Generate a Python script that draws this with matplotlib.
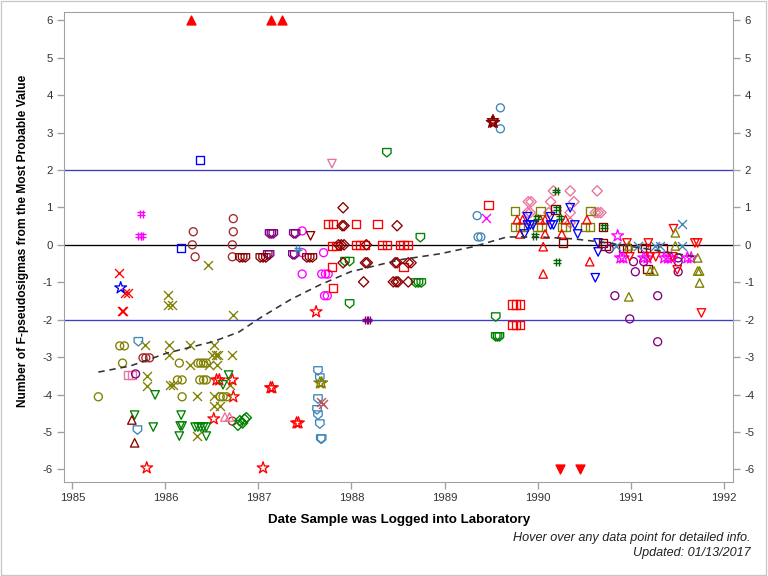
import matplotlib
matplotlib.use("Agg")
import matplotlib.pyplot as plt
from matplotlib.path import Path
from matplotlib.patches import Rectangle

plt.rcParams['font.family'] = ['Liberation Sans', 'DejaVu Sans']
plt.rcParams['axes.unicode_minus'] = False

# ---- data: (year, F-pseudosigmas) ----
red_tri_up_filled_x = [1986.28, 1987.14, 1987.25]
red_tri_up_filled_y = [6.0, 6.0, 6.0]
red_tri_dn_filled_x = [1990.24, 1990.46]
red_tri_dn_filled_y = [-6.0, -6.0]

blue_sq_x = [1986.37, 1986.17]
blue_sq_y = [2.27, -0.08]

teal_circ_x = [1989.60, 1989.60, 1989.35, 1989.36, 1989.39]
teal_circ_y = [3.66, 3.10, 0.78, 0.21, 0.21]

maroon_star_x = [1989.51, 1989.53, 1989.52]
maroon_star_y = [3.27, 3.27, 3.32]

pink_tri_dn_x = [1987.79]
pink_tri_dn_y = [2.17]

green_shield_x = [1988.38, 1988.74, 1987.93, 1987.98, 1987.98, 1988.69, 1988.72, 1988.75,
                  1989.55, 1989.55, 1989.57, 1989.59]
green_shield_y = [2.46, 0.19, -0.45, -0.45, -1.58, -1.02, -1.02, -1.02,
                  -1.93, -2.46, -2.46, -2.46]

magenta_hash_x = [1985.74, 1985.72, 1985.75]
magenta_hash_y = [0.83, 0.24, 0.24]

brown_circ_x = [1986.30, 1986.29, 1986.32, 1986.73, 1986.73, 1986.72, 1986.72,
                1985.76, 1985.79, 1985.83, 1986.72]
brown_circ_y = [0.35, 0.0, -0.32, 0.70, 0.35, 0.0, -0.32,
                -3.02, -3.02, -3.02, -4.71]

olive_x_x = [1986.46, 1986.03, 1986.03, 1986.07, 1986.73, 1985.78, 1986.04, 1986.27, 1986.52,
             1986.04, 1986.50, 1986.54, 1986.57, 1986.72, 1986.27, 1986.47, 1986.56,
             1985.80, 1985.80, 1986.05, 1986.08, 1986.70, 1986.34, 1986.52, 1986.52,
             1986.59, 1986.34]
olive_x_y = [-0.53, -1.34, -1.60, -1.60, -1.87, -2.67, -2.67, -2.67, -2.67,
             -2.94, -2.94, -2.94, -2.94, -2.94, -3.21, -3.21, -3.21,
             -3.50, -3.77, -3.74, -3.74, -3.74, -4.04, -4.04, -4.30,
             -4.30, -5.11]

red_x_x = [1985.50, 1985.57, 1985.60, 1985.53, 1985.55]
red_x_y = [-0.75, -1.28, -1.28, -1.76, -1.76]

blue_star_x = [1985.52]
blue_star_y = [-1.15]

red_star_x = [1987.62, 1986.55, 1986.58, 1986.72, 1986.73, 1986.52, 1987.13, 1987.15,
              1987.41, 1987.43, 1985.80, 1987.05]
red_star_y = [-1.79, -3.61, -3.61, -3.61, -4.06, -4.65, -3.82, -3.82,
              -4.76, -4.76, -5.96, -5.96]

teal_shield_x = [1985.71, 1985.70, 1987.64, 1987.66, 1987.64, 1987.63, 1987.64, 1987.66,
                 1987.67, 1987.68]
teal_shield_y = [-2.59, -4.95, -3.37, -3.56, -4.12, -4.41, -4.55, -4.79,
                 -5.19, -5.19]

olive_circ_x = [1985.51, 1985.56, 1985.54, 1986.15, 1986.35, 1986.38, 1986.41, 1986.44,
                1986.13, 1986.18, 1986.37, 1986.41, 1986.44, 1985.28, 1986.18,
                1986.59, 1986.62, 1986.66]
olive_circ_y = [-2.70, -2.70, -3.16, -3.16, -3.16, -3.16, -3.16, -3.16,
                -3.61, -3.61, -3.61, -3.61, -3.61, -4.06, -4.06,
                -4.06, -4.06, -4.06]

olive_star_x = [1987.66, 1987.68]
olive_star_y = [-3.69, -3.69]

rosy_x_x = [1987.67, 1987.69]
rosy_x_y = [-4.20, -4.26]

pink_sq_x = [1985.60, 1985.64]
pink_sq_y = [-3.48, -3.48]
purple_circ_early_x = [1985.68]
purple_circ_early_y = [-3.45]

green_tri_dn_x = [1986.68, 1986.62, 1985.89, 1985.67, 1985.87, 1986.17, 1986.16, 1986.18,
                  1986.15, 1986.32, 1986.35, 1986.38, 1986.41, 1986.44, 1986.44]
green_tri_dn_y = [-3.48, -3.74, -4.01, -4.55, -4.87, -4.55, -4.84, -4.84,
                  -5.11, -4.87, -4.87, -4.87, -4.87, -4.87, -5.11]

maroon_tri_up_x = [1985.64, 1985.67]
maroon_tri_up_y = [-4.68, -5.29]

pink_tri_up_x = [1986.64, 1986.69]
pink_tri_up_y = [-4.60, -4.60]

green_diam_x = [1986.78, 1986.80, 1986.83, 1986.85, 1986.87]
green_diam_y = [-4.82, -4.70, -4.76, -4.66, -4.62]

magenta_circ_x = [1987.47, 1987.47, 1987.70, 1987.47, 1987.68, 1987.72, 1987.75,
                  1987.71, 1987.74]
magenta_circ_y = [0.37, -0.21, -0.21, -0.78, -0.78, -0.78, -0.78,
                  -1.36, -1.36]

purple_shield_x = [1987.12, 1987.14, 1987.16, 1987.38, 1987.40, 1987.10, 1987.12,
                   1987.37, 1987.39]
purple_shield_y = [0.29, 0.29, 0.29, 0.29, 0.29, -0.27, -0.27, -0.27, -0.27]

maroon_shield_x = [1986.80, 1986.83, 1986.86, 1987.02, 1987.05, 1987.08,
                   1987.52, 1987.55, 1987.58]
maroon_shield_y = [-0.35] * 9

maroon_tri_dn_x = [1987.56]
maroon_tri_dn_y = [0.24]

teal_hash_x = [1987.42]
teal_hash_y = [-0.11]

red_sq_x = [1987.75, 1987.80, 1988.05, 1988.28, 1987.79, 1987.84, 1988.05, 1988.09, 1988.14,
            1988.33, 1988.38, 1988.52, 1988.56, 1988.60, 1987.79, 1988.56, 1987.80,
            1989.47, 1989.73, 1989.77, 1989.81, 1989.73, 1989.77, 1989.81]
red_sq_y = [0.56, 0.56, 0.56, 0.56, -0.03, -0.03, 0.0, 0.0, 0.0,
            0.0, 0.0, 0.0, 0.0, 0.0, -0.59, -0.59, -1.15,
            1.07, -1.60, -1.60, -1.60, -2.14, -2.14, -2.14]

maroon_diam_x = [1987.91, 1987.90, 1987.92, 1988.49, 1987.86, 1987.89, 1987.92, 1988.16,
                 1987.91, 1988.15, 1988.17, 1988.47, 1988.49, 1988.61, 1988.64,
                 1988.13, 1988.45, 1988.48, 1988.50, 1988.61]
maroon_diam_y = [0.99, 0.51, 0.51, 0.51, 0.0, 0.0, 0.0, 0.0,
                 -0.48, -0.48, -0.48, -0.48, -0.48, -0.48, -0.48,
                 -0.99, -0.99, -0.99, -0.99, -0.99]

purple_hash_x = [1988.16, 1988.18]
purple_hash_y = [-2.01, -2.01]

magenta_x_x = [1989.45]
magenta_x_y = [0.72]

pink_diam_x = [1990.17, 1990.35, 1990.64, 1989.90, 1989.93, 1990.14, 1990.39, 1990.62,
               1990.65, 1990.68, 1989.89, 1989.92, 1990.12, 1990.35, 1990.35]
pink_diam_y = [1.44, 1.44, 1.44, 1.15, 1.15, 1.15, 1.15, 0.86,
               0.86, 0.86, 0.86, 0.86, 0.86, 0.86, 0.59]

green_hash_x = [1990.20, 1990.21, 1989.99, 1990.24, 1989.97, 1990.21, 1990.71]
green_hash_y = [1.44, 0.96, 0.72, 0.72, 0.24, -0.45, 0.48]

olive_sq_x = [1989.76, 1990.03, 1990.57, 1989.76, 1989.81, 1989.85, 1990.00, 1990.04,
              1990.26, 1990.30, 1990.51, 1990.56]
olive_sq_y = [0.91, 0.91, 0.91, 0.48, 0.48, 0.48, 0.48, 0.48,
              0.48, 0.48, 0.48, 0.48]

red_tri_up_x = [1989.78, 1989.84, 1990.03, 1990.08, 1990.30, 1990.53, 1989.81, 1990.08,
                1990.26, 1990.06, 1990.56, 1990.06]
red_tri_up_y = [0.67, 0.67, 0.67, 0.67, 0.67, 0.67, 0.29, 0.29,
                0.29, -0.05, -0.45, -0.78]

blue_tri_dn_x = [1990.35, 1989.89, 1990.14, 1989.89, 1989.92, 1989.95, 1990.14, 1990.17,
                 1990.40, 1989.86, 1990.43, 1990.65, 1990.65, 1990.62]
blue_tri_dn_y = [0.99, 0.75, 0.75, 0.53, 0.53, 0.53, 0.53, 0.53,
                 0.53, 0.29, 0.29, 0.05, -0.19, -0.88]

maroon_sq_x = [1990.19, 1990.70, 1990.70, 1990.73, 1990.92, 1990.96, 1991.12, 1991.16,
               1991.34, 1991.18, 1990.27]
maroon_sq_y = [0.94, 0.48, 0.05, -0.03, -0.08, -0.08, -0.08, -0.08,
               -0.08, -0.64, 0.05]

purple_circ_x = [1990.77, 1991.03, 1991.05, 1991.14, 1991.51, 1991.51, 1991.51, 1990.83,
                 1991.29, 1990.99, 1991.29]
purple_circ_y = [-0.11, -0.45, -0.72, -0.45, -0.45, -0.35, -0.72, -1.36,
                 -1.36, -1.98, -2.59]

magenta_star_x = [1990.86, 1990.89, 1990.92, 1991.14, 1991.18, 1991.36, 1991.40, 1991.44,
                  1991.61, 1991.65]
magenta_star_y = [0.24, -0.35, -0.35, -0.35, -0.35, -0.35, -0.35, -0.35,
                  -0.35, -0.35]

teal_x_x = [1990.84, 1991.08, 1991.26, 1991.32, 1991.55, 1991.55]
teal_x_y = [-0.03, -0.03, -0.03, -0.03, -0.03, 0.56]

red_tri_dn_x = [1991.46, 1991.19, 1990.96, 1991.69, 1991.72, 1990.99, 1991.21, 1991.27,
                1991.45, 1991.50, 1991.76]
red_tri_dn_y = [0.43, 0.05, 0.05, 0.05, 0.05, -0.32, -0.32, -0.32,
                -0.32, -0.67, -1.82]

olive_tri_up_x = [1991.48, 1990.98, 1991.48, 1991.72, 1991.72, 1991.74, 1991.74, 1991.21,
                  1991.25, 1990.98]
olive_tri_up_y = [0.32, -0.03, -0.03, -0.35, -0.70, -0.70, -1.02, -0.70,
                  -0.70, -1.39]

# loess-style trend (dashed)
trend_x = [1985.28, 1985.62, 1986.02, 1986.51, 1986.79, 1987.02, 1987.34, 1987.66,
           1987.99, 1988.52, 1988.95, 1989.31, 1989.67, 1990.03, 1990.38, 1990.67,
           1991.10, 1991.50, 1991.70]
trend_y = [-3.40, -3.24, -2.89, -2.59, -2.33, -1.95, -1.47, -1.07,
           -0.72, -0.40, -0.24, -0.05, 0.21, 0.21, 0.16, 0.08,
           -0.08, -0.24, -0.32]

year_ticks = [1985, 1986, 1987, 1988, 1989, 1990, 1991, 1992]
sigma_ticks = [-6, -5, -4, -3, -2, -1, 0, 1, 2, 3, 4, 5, 6]

# ---- colours ----
RED = '#FF0000'
MAROON = '#8B0000'
BROWN = '#A5292A'
OLIVE = '#808000'
GREEN = '#008000'
DKGREEN = '#006400'
TEAL = '#3F86BA'
MAGENTA = '#FF00FF'
PINK = '#E8739B'
PURPLE = '#800080'
BLUE = '#0000FF'
ROSY = '#C05050'

# ---- custom markers ----
hash_mk = Path([(-0.35, -1), (-0.35, 1), (0.35, -1), (0.35, 1),
                (-1, -0.35), (1, -0.35), (-1, 0.35), (1, 0.35)],
               [Path.MOVETO, Path.LINETO] * 4)
shield_mk = Path([(-1, 1), (1, 1), (1, -0.15), (0, -1), (-1, -0.15), (-1, 1)],
                 [Path.MOVETO] + [Path.LINETO] * 4 + [Path.CLOSEPOLY])

fig = plt.figure(figsize=(8, 6), dpi=96)
ax = fig.add_axes([0.0837, 0.163, 0.8708, 0.8155])

ax.axhline(0, color='black', lw=1, zorder=1)
ax.axhline(2, color='#3D3DCC', lw=1, zorder=1)
ax.axhline(-2, color='#3D3DCC', lw=1, zorder=1)


def pts(x, y, color, marker, size=42, filled=False):
    if marker == 'x':
        ax.scatter(x, y, s=size, marker='x', linewidths=1, c=color, zorder=3)
        return
    ax.scatter(x, y, s=size, marker=marker, linewidths=1,
               facecolors=color if filled else 'none', edgecolors=color, zorder=3)


pts(red_tri_up_filled_x, red_tri_up_filled_y, RED, '^', 45, True)
pts(red_tri_dn_filled_x, red_tri_dn_filled_y, RED, 'v', 45, True)
pts(blue_sq_x, blue_sq_y, BLUE, 's', 40)
pts(teal_circ_x, teal_circ_y, TEAL, 'o', 36)
pts(maroon_star_x, maroon_star_y, MAROON, '*', 80)
pts(pink_tri_dn_x, pink_tri_dn_y, PINK, 'v', 40)
pts(green_shield_x, green_shield_y, GREEN, shield_mk, 40)
pts(magenta_hash_x, magenta_hash_y, MAGENTA, hash_mk, 36)
pts(brown_circ_x, brown_circ_y, BROWN, 'o', 36)
pts(olive_x_x, olive_x_y, OLIVE, 'x', 45)
pts(red_x_x, red_x_y, RED, 'x', 45)
pts(blue_star_x, blue_star_y, BLUE, '*', 85)
pts(red_star_x, red_star_y, RED, '*', 85)
pts(teal_shield_x, teal_shield_y, TEAL, shield_mk, 40)
pts(olive_circ_x, olive_circ_y, OLIVE, 'o', 36)
pts(olive_star_x, olive_star_y, OLIVE, '*', 85)
pts(rosy_x_x, rosy_x_y, ROSY, 'x', 45)
pts(pink_sq_x, pink_sq_y, PINK, 's', 36)
pts(purple_circ_early_x, purple_circ_early_y, PURPLE, 'o', 36)
pts(green_tri_dn_x, green_tri_dn_y, GREEN, 'v', 40)
pts(maroon_tri_up_x, maroon_tri_up_y, MAROON, '^', 40)
pts(pink_tri_up_x, pink_tri_up_y, PINK, '^', 40)
pts(green_diam_x, green_diam_y, GREEN, 'D', 30)
pts(magenta_circ_x, magenta_circ_y, MAGENTA, 'o', 36)
pts(purple_shield_x, purple_shield_y, PURPLE, shield_mk, 40)
pts(maroon_shield_x, maroon_shield_y, MAROON, shield_mk, 40)
pts(maroon_tri_dn_x, maroon_tri_dn_y, MAROON, 'v', 40)
pts(teal_hash_x, teal_hash_y, TEAL, hash_mk, 36)
pts(red_sq_x, red_sq_y, RED, 's', 40)
pts(maroon_diam_x, maroon_diam_y, MAROON, 'D', 30)
pts(purple_hash_x, purple_hash_y, PURPLE, hash_mk, 36)
pts(magenta_x_x, magenta_x_y, MAGENTA, 'x', 45)
pts(pink_diam_x, pink_diam_y, PINK, 'D', 30)
pts(olive_sq_x, olive_sq_y, OLIVE, 's', 40)
pts(red_tri_up_x, red_tri_up_y, RED, '^', 40)
pts(blue_tri_dn_x, blue_tri_dn_y, BLUE, 'v', 40)
pts(maroon_sq_x, maroon_sq_y, MAROON, 's', 40)
pts(purple_circ_x, purple_circ_y, PURPLE, 'o', 36)
pts(magenta_star_x, magenta_star_y, MAGENTA, '*', 85)
pts(teal_x_x, teal_x_y, TEAL, 'x', 45)
pts(red_tri_dn_x, red_tri_dn_y, RED, 'v', 40)
pts(olive_tri_up_x, olive_tri_up_y, OLIVE, '^', 40)
pts(green_hash_x, green_hash_y, DKGREEN, hash_mk, 36)

ax.plot(trend_x, trend_y, color='#333333', ls=(0, (4, 3)), lw=1.2, zorder=4)

ax.set_xlim(1984.914, 1992.10)
ax.set_ylim(-6.34, 6.21)
ax.set_xticks(year_ticks)
ax.set_yticks(sigma_ticks)
ax.tick_params(axis='both', colors='#A0A0A0', labelcolor='#333333', labelsize=8.5,
               length=5, width=1)
ax.tick_params(axis='y', right=True, labelright=True)
for sp in ax.spines.values():
    sp.set_color('#A0A0A0')

ax.set_xlabel('Date Sample was Logged into Laboratory', fontsize=10, fontweight='bold',
              labelpad=8)
ax.set_ylabel('Number of F-pseudosigmas from the Most Probable Value', fontsize=9,
              fontweight='bold')
ax.yaxis.set_label_coords(-0.053, 0.514)

fig.text(0.977, 0.061, 'Hover over any data point for detailed info.', ha='right',
         fontsize=9.5, style='italic', color='#222222')
fig.text(0.977, 0.034, 'Updated: 01/13/2017', ha='right', fontsize=9.5, style='italic',
         color='#222222')

fig.patches.append(Rectangle((0.001, 0.001), 0.997, 0.997, transform=fig.transFigure,
                             fill=False, edgecolor='#C8C8C8', lw=1))

fig.savefig('out.png', dpi=96)
